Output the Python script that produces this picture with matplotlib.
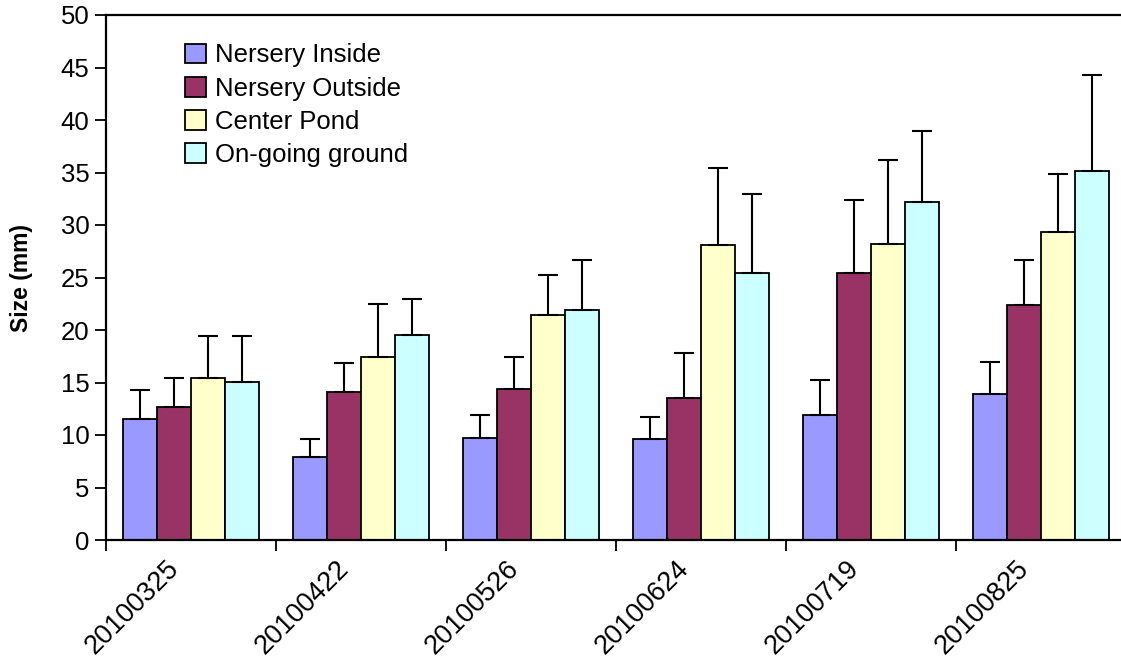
import matplotlib
matplotlib.use("Agg")
import matplotlib.pyplot as plt
import matplotlib.transforms as mtransforms
import numpy as np

dates = ["20100325", "20100422", "20100526", "20100624", "20100719", "20100825"]
series = ["Nersery Inside", "Nersery Outside", "Center Pond", "On-going ground"]
colors = ["#9999FF", "#993366", "#FFFFCC", "#CCFFFF"]

nersery_inside = [11.55, 7.9, 9.7, 9.65, 11.9, 13.95]
nersery_outside = [12.7, 14.1, 14.35, 13.5, 25.4, 22.4]
center_pond = [15.4, 17.45, 21.4, 28.1, 28.2, 29.35]
ongoing_ground = [15.05, 19.5, 21.95, 25.4, 32.2, 35.1]

err_inside = [2.75, 1.75, 2.25, 2.05, 3.35, 3.05]
err_outside = [2.7, 2.75, 3.1, 4.3, 7.0, 4.3]
err_pond = [4.0, 5.05, 3.85, 7.3, 8.0, 5.55]
err_ground = [4.35, 3.5, 4.7, 7.6, 6.75, 9.2]

values = [nersery_inside, nersery_outside, center_pond, ongoing_ground]
errors = [err_inside, err_outside, err_pond, err_ground]

plt.rcParams["font.family"] = ["Liberation Sans", "DejaVu Sans"]

fig = plt.figure(figsize=(11.21, 6.63), dpi=100)
ax = fig.add_axes([106 / 1121, 1 - 540 / 663, 1020 / 1121, 525 / 663])

x = np.arange(len(dates))
width = 0.2
for i, (vals, errs, col, name) in enumerate(zip(values, errors, colors, series)):
    pos = x - 0.3 + i * width
    ax.bar(pos, vals, width, color=col, edgecolor="black", linewidth=1.3,
           label=name, zorder=2)
    ax.errorbar(pos, vals, yerr=[np.zeros(len(errs)), errs], fmt="none",
                ecolor="black", elinewidth=1.5, capsize=7.5, capthick=1.5,
                zorder=3)

ax.set_xlim(-0.5, len(dates) - 0.5)
ax.set_ylim(0, 50)
ax.set_yticks(np.arange(0, 51, 5))
ax.tick_params(axis="y", labelsize=18.5, direction="out", length=8, width=1.3, pad=4)

ax.set_xticks(x)
ax.set_xticklabels(dates, rotation=45, ha="right", rotation_mode="anchor",
                   fontsize=19.5)
ax.tick_params(axis="x", which="major", length=0, pad=11)
ax.set_xticks(np.arange(-0.5, len(dates) + 0.5, 1), minor=True)
ax.tick_params(axis="x", which="minor", direction="out", length=8, width=1.3)
shift = mtransforms.ScaledTranslation(-0.25, 0.0, fig.dpi_scale_trans)
for lbl in ax.get_xticklabels():
    lbl.set_transform(lbl.get_transform() + shift)

for side in ["left", "bottom", "top"]:
    ax.spines[side].set_linewidth(1.6)
ax.spines["right"].set_visible(False)

ax.set_ylabel("Size (mm)", fontsize=16.5, fontweight="bold", labelpad=20)

leg = ax.legend(loc="upper left", bbox_to_anchor=(0.055, 0.99), frameon=False,
                fontsize=18.5, handlelength=0.8, handleheight=0.8,
                handletextpad=0.35, labelspacing=0.36)

fig.savefig("out.png", dpi=100)
